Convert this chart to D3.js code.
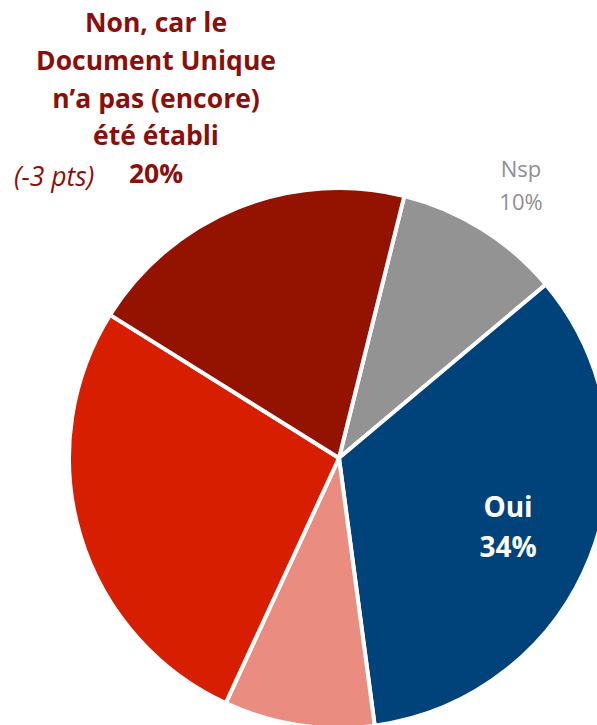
<!DOCTYPE html>
<html>
<head>
<meta charset="utf-8">
<script src="https://cdn.jsdelivr.net/npm/d3@7"></script>
<style>
  body { margin: 0; background: #fff; }
  svg { display: block; }
</style>
</head>
<body>
<svg id="chart" width="597" height="725"></svg>
<script>
var categories = ["Nsp", "Oui", "Non (autre)", "Non", "Non, car le Document Unique n\u2019a pas (encore) été établi"];
var values = [10, 34, 9, 27, 20];
var colors = ["#939393", "#00437A", "#EA8C80", "#D81E00", "#931200"];

var svg = d3.select("#chart");
var cx = 339, cy = 458, r = 270;

var pie = d3.pie()
    .sort(null)
    .value(function(d) { return d; })
    .startAngle(14 * Math.PI / 180)
    .endAngle(14 * Math.PI / 180 + 2 * Math.PI);

var arc = d3.arc().innerRadius(0).outerRadius(r);

var g = svg.append("g")
    .attr("transform", "translate(" + cx + "," + cy + ")");

g.selectAll("path")
    .data(pie(values))
  .enter().append("path")
    .attr("d", arc)
    .attr("fill", function(d, i) { return colors[i]; })
    .attr("stroke", "#fff")
    .attr("stroke-width", 4)
    .attr("stroke-linejoin", "round");

var font = "'Open Sans', sans-serif";

// title label of dark red slice
var titleLines = ["Non, car le", "Document Unique", "n\u2019a pas (encore)", "été établi", values[4] + "%"];
svg.append("g").selectAll("text")
    .data(titleLines)
  .enter().append("text")
    .attr("x", 156)
    .attr("y", function(d, i) { return 32 + i * 37.8; })
    .attr("text-anchor", "middle")
    .attr("font-family", font)
    .attr("font-weight", "bold")
    .attr("font-size", 26.5)
    .attr("fill", "#8A0F0A")
    .text(function(d) { return d; });

svg.append("text")
    .attr("x", 14)
    .attr("y", 186)
    .attr("font-family", font)
    .attr("font-style", "italic")
    .attr("font-size", 26.5)
    .attr("fill", "#8A0F0A")
    .text("(-3 pts)");

// Nsp
svg.append("g").selectAll("text")
    .data([categories[0], values[0] + "%"])
  .enter().append("text")
    .attr("x", 521)
    .attr("y", function(d, i) { return 177 + i * 33; })
    .attr("text-anchor", "middle")
    .attr("font-family", font)
    .attr("font-size", 22)
    .attr("fill", "#8F8F8F")
    .text(function(d) { return d; });

// Oui
svg.append("g").selectAll("text")
    .data([categories[1], values[1] + "%"])
  .enter().append("text")
    .attr("x", 508)
    .attr("y", function(d, i) { return 517 + i * 40; })
    .attr("text-anchor", "middle")
    .attr("font-family", font)
    .attr("font-weight", "bold")
    .attr("font-size", 28)
    .attr("fill", "#fff")
    .text(function(d) { return d; });
</script>
</body>
</html>
